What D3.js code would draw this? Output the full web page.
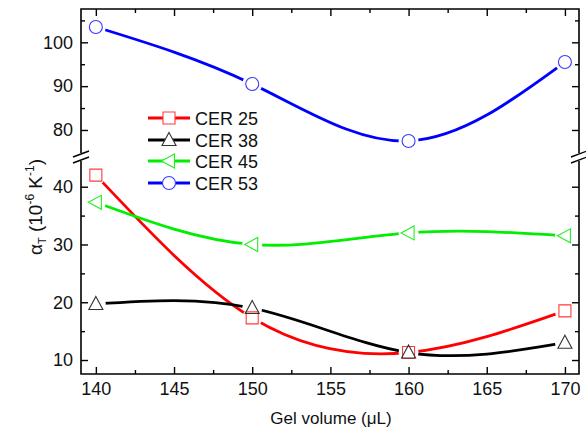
<!DOCTYPE html>
<html><head><meta charset="utf-8">
<script src="https://cdn.jsdelivr.net/npm/d3@7"></script>
<style>body{margin:0;background:#fff}svg{display:block;font-family:"Liberation Sans",Arial,sans-serif}</style>
</head><body>
<svg id="chart" width="586" height="436"></svg>
<script>
// Thermal expansion coefficient vs gel volume for four CER samples
const volumes = [140, 150, 160, 170];
const cer25 = [42.0, 17.3, 11.3, 18.5];
const cer38 = [19.7, 19.0, 11.3, 13.0];
const cer45 = [37.3, 30.0, 32.0, 31.5];
const cer53 = [103.5, 90.5, 77.5, 95.5];
const seriesNames = ["CER 25", "CER 38", "CER 45", "CER 53"];
const xTicks = [140, 145, 150, 155, 160, 165, 170];
const xMinor = [142.5, 147.5, 152.5, 157.5, 162.5, 167.5];
const yTicksLow = [10, 20, 30, 40];
const yMinorLow = [15, 25, 35];
const yTicksHigh = [80, 90, 100];
const yMinorHigh = [85, 95, 105];

const svg = d3.select("#chart");
const L = 81, R = 579, T = 9, B = 374;
const brkTop = 153, brkBot = 161;

const x = d3.scaleLinear().domain([139.05, 170.9]).range([L, R]);
const yHigh = d3.scaleLinear().domain([74.75, 107.6]).range([brkTop, T]);
const yLow = d3.scaleLinear().domain([7.58, 44.45]).range([B, brkBot]);

const styles = [
  {line: "#ff0000", mk: "#ff3b3b", shape: "square"},
  {line: "#000000", mk: "#333333", shape: "triUp"},
  {line: "#00ee00", mk: "#22ee22", shape: "triLeft"},
  {line: "#0000ff", mk: "#3a3aff", shape: "circle"}
];
const data = [cer25, cer38, cer45, cer53].map((vals, i) => ({
  name: seriesNames[i],
  y: i === 3 ? yHigh : yLow,
  pts: volumes.map((v, j) => [v, vals[j]]),
  ...styles[i]
}));

function markerPath(shape) {
  switch (shape) {
    case "square": return "M-6,-6H6V6H-6Z";
    case "triUp": return "M0,-7.5L7,5.5H-7Z";
    case "triLeft": return "M-7.5,0L5.5,-7L5.5,7Z";
    default: return d3.arc()({innerRadius: 0, outerRadius: 6.5, startAngle: 0, endAngle: 2 * Math.PI});
  }
}

// Axes: ticks point inward on all four sides
function tickAxis(gen, scale, values, size, withLabels) {
  const a = gen(scale).tickValues(values).tickSizeInner(size).tickSizeOuter(0).tickPadding(8);
  if (!withLabels) a.tickFormat("");
  return a;
}
function addAxis(gen, scale, major, minor, tf, labels) {
  const g = svg.append("g").attr("transform", tf);
  g.append("g").call(tickAxis(gen, scale, major, -7, labels));
  g.append("g").call(tickAxis(gen, scale, minor, -4, false));
  g.selectAll(".domain").remove();
  g.selectAll("line").attr("stroke", "#000").attr("stroke-width", 1.4);
  g.selectAll("text").attr("font-size", 18).attr("fill", "#111").attr("font-family", "Liberation Sans, Arial, sans-serif");
  return g;
}
addAxis(d3.axisBottom, x, xTicks, xMinor, `translate(0,${B})`, true);
addAxis(d3.axisTop, x, xTicks, xMinor, `translate(0,${T})`, false);
addAxis(d3.axisLeft, yLow, yTicksLow, yMinorLow, `translate(${L},0)`, true);
addAxis(d3.axisLeft, yHigh, yTicksHigh, yMinorHigh, `translate(${L},0)`, true);
addAxis(d3.axisRight, yLow, yTicksLow, yMinorLow, `translate(${R},0)`, false);
addAxis(d3.axisRight, yHigh, yTicksHigh, yMinorHigh, `translate(${R},0)`, false);

// Frame with break in the vertical axes
const frame = svg.append("g").attr("stroke", "#000").attr("stroke-width", 1.6).attr("fill", "none");
frame.append("path").attr("d", `M${L},${brkTop}V${T}H${R}V${brkTop}`);
frame.append("path").attr("d", `M${L},${brkBot}V${B}H${R}V${brkBot}`);
[L, R].forEach(cx => {
  [brkTop + 1, brkBot - 1].forEach(cy => {
    frame.append("line").attr("x1", cx - 8).attr("y1", cy + 3).attr("x2", cx + 8).attr("y2", cy - 3)
      .attr("stroke-width", 1.4);
  });
});

// Masks leave a small gap in each curve around its own markers
const defs = svg.append("defs");
data.forEach((s, i) => {
  const m = defs.append("mask").attr("id", "gap" + i).attr("maskUnits", "userSpaceOnUse")
    .attr("x", 0).attr("y", 0).attr("width", 586).attr("height", 436);
  m.append("rect").attr("width", 586).attr("height", 436).attr("fill", "#fff");
  s.pts.forEach(p => m.append("circle").attr("cx", x(p[0])).attr("cy", s.y(p[1])).attr("r", 10).attr("fill", "#000"));
});

data.forEach((s, i) => {
  const line = d3.line().x(d => x(d[0])).y(d => s.y(d[1])).curve(d3.curveNatural);
  svg.append("path").attr("d", line(s.pts)).attr("fill", "none").attr("stroke", s.line)
    .attr("stroke-width", 2.8).attr("mask", `url(#gap${i})`);
});
data.forEach(s => {
  svg.append("g").selectAll("path").data(s.pts).join("path")
    .attr("transform", d => `translate(${x(d[0])},${s.y(d[1])})`)
    .attr("d", markerPath(s.shape))
    .attr("fill", "none").attr("stroke", s.mk).attr("stroke-width", 1.1);
});

// Legend
const legY = [118, 140, 161, 183];
const leg = svg.append("g");
data.forEach((s, i) => {
  const g = leg.append("g").attr("transform", `translate(0,${legY[i]})`);
  g.append("line").attr("x1", 148).attr("x2", 190).attr("stroke", s.line).attr("stroke-width", 2.8);
  g.append("path").attr("transform", "translate(169,0)").attr("d", markerPath(s.shape))
    .attr("fill", "#fff").attr("stroke", s.mk).attr("stroke-width", 1.1);
  g.append("text").attr("x", 195).attr("y", 6.5).attr("font-size", 18).attr("fill", "#111").text(s.name);
});

// Axis titles
svg.append("text").attr("x", 331).attr("y", 424).attr("text-anchor", "middle")
  .attr("font-size", 17).attr("fill", "#111").text("Gel volume (\u03BCL)");

const yl = svg.append("text").attr("transform", "translate(42,207) rotate(-90)")
  .attr("text-anchor", "middle").attr("font-size", 19).attr("fill", "#111");
yl.append("tspan").text("\u03B1");
yl.append("tspan").attr("font-size", 11).attr("dy", 4).text("T");
yl.append("tspan").attr("dy", -4).text(" (10");
yl.append("tspan").attr("font-size", 12).attr("dy", -8).text("-6");
yl.append("tspan").attr("dy", 8).text(" K");
yl.append("tspan").attr("font-size", 12).attr("dy", -8).text("-1");
yl.append("tspan").attr("dy", 8).text(")");
</script>
</body></html>
